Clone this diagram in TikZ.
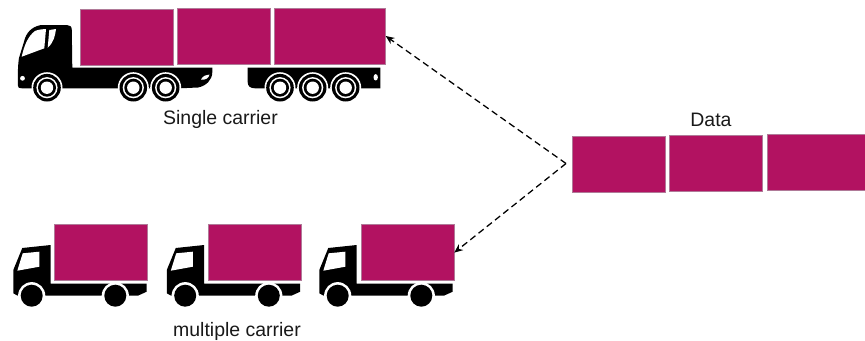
\documentclass[tikz,border=0pt]{standalone}
\usepackage{fontspec}
\setmainfont{Liberation Sans}
\usepackage{xcolor}
\usetikzlibrary{arrows.meta, positioning}
\definecolor{payload}{HTML}{B21261}
\definecolor{payloadedge}{HTML}{B07A98}
\tikzset{
    packet/.style={fill=payload, draw=payloadedge, line width=0.4pt, inner sep=0pt, minimum height=56*0.75pt, minimum width=93*0.75pt},
    caption/.style={font=\fontsize{14.6}{16}\selectfont, text=black!90},
    link/.style={line width=0.95pt, dash pattern=on 4.9pt off 3pt, -{Stealth[length=6.5pt,width=5.5pt]}},
    smalltruck/.pic={
        % Cab and flat bed
        \fill[black] (50.7,245) -- (22.3,248) -- (13.3,270) -- (13.3,293.3) -- (17.3,295.5) -- (138.3,295.5) -- (146.7,291.7) -- (146.7,283.5) -- (50.7,283.5) -- cycle;
        \fill[white] (22.7,253.3) -- (39.3,251.7) -- (39.3,266.7) -- (17.3,270.7) -- cycle;
        % Wheels
        \foreach \wheelx in {31.7,115.3} {
            \fill[white] (\wheelx,295.7) circle (13.6*0.75pt);
            \fill[black] (\wheelx,295.7) circle (11*0.75pt);
        }
    },
    bigwheel/.pic={
        \fill[white] (0,0) circle (15.5*0.75pt);
        \fill[black] (0,0) circle (13.8*0.75pt);
        \fill[white] (0,0) circle (10.6*0.75pt);
        \fill[black] (0,0) circle (9*0.75pt);
        \fill[white] (0,0) circle (6.2*0.75pt);
    }
}

\begin{document}
\begin{tikzpicture}[x=0.75pt, y=-0.75pt]
    \useasboundingbox (0,0) rectangle (865,340);

    % Tractor with cab and chassis
    \fill[black] (71.8,30) .. controls (71.8,26.5) and (70,25) .. (67,25) -- (41,25) .. controls (31,27) and (26,33) .. (24,41.7) -- (19,58) .. controls (17.8,65) and (17.8,75) .. (17.8,85) .. controls (17.8,88) and (19,88.3) .. (22,88.3) -- (180,88.3) -- (198,87.5) .. controls (206,86) and (212.3,80) .. (212.3,72) -- (212.3,67.7) -- (72.3,67.7) -- cycle;
    \fill[white] (21.7,56.7) .. controls (24,46) and (28,36) .. (35,31) .. controls (38,29.5) and (43,29.2) .. (46,29) -- (44.3,48.3) -- cycle;
    \fill[white] (49.3,30) -- (56,29) .. controls (55,36) and (54,42) .. (47.7,47.7) -- cycle;
    \fill[white] (22.5,78.3) circle (2.4*0.75pt);
    \fill[white] (201,79.5) .. controls (203,76) and (206,74.5) .. (209.5,74.5) .. controls (209,78) and (205,80.5) .. (201,79.5) -- cycle;

    % Trailer
    \fill[black] (247.7,67.7) -- (380.3,67.7) -- (380.3,88.3) -- (255,88.3) .. controls (250,88.3) and (247.7,86) .. (247.7,82) -- cycle;
    \fill[white] (375.7,77.3) ellipse (2.2*0.75pt and 3.2*0.75pt);

    % Wheels of the long truck
    \foreach \wheelx in {47,133.3,165.7,280,312.7,345.7}
        \pic at (\wheelx,87.7) {bigwheel};

    % Small trucks
    \foreach \truckx in {0,153.5,306}
        \pic at (\truckx,0) {smalltruck};

    % Packets on the long truck
    \node[packet] (longa) at (126.5,37.2) {};
    \node[packet] (longb) at (223.5,36.5) {};
    \node[packet, minimum width=111.5*0.75pt] (longc) at (329.7,36) {};

    % Packets on the small trucks
    \node[packet] (smalla) at (100.5,252.6) {};
    \node[packet] (smallb) at (255.2,252.6) {};
    \node[packet] (smallc) at (407.5,252.6) {};

    % Data packets
    \node[packet] (dataa) at (618.7,164) {};
    \node[packet] (datab) at (716.2,163) {};
    \node[packet, minimum width=100*0.75pt, anchor=west] (datac) at (767,162.5) {};

    % Labels
    \node[caption] (single) at (220.5,119.5) {Single carrier};
    \node[caption] (multiple) at (237,331) {multiple carrier};
    \node[caption] (datalabel) at (711,120) {Data};

    % Split towards both carriers
    \coordinate (split) at (566,163.5);
    \draw[link] (split) -- (longc.east);
    \draw[link] (split) -- (smallc.east);
\end{tikzpicture}
\end{document}
